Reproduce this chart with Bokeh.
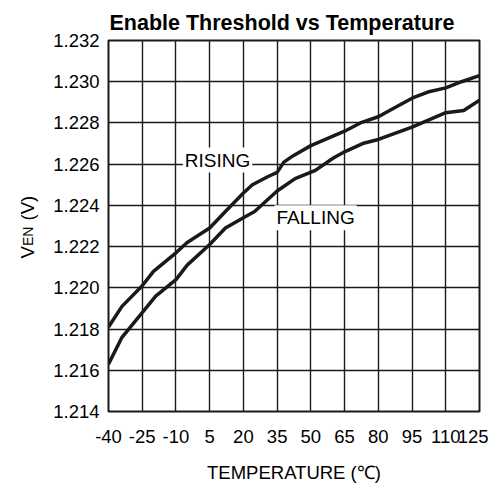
import math
from bokeh.plotting import figure
from bokeh.models import Range1d, FixedTicker, Label
from bokeh.layouts import row
from bokeh.core.properties import value
from bokeh.embed import file_html
from bokeh.resources import INLINE

# ---- data ----
rising_temp = [-40, -34, -25, -20, -10, -5, 5, 12, 20, 24, 31, 35, 38, 42, 50, 65, 72, 80, 85, 95, 102, 110, 117, 125]
rising_ven = [1.2181, 1.2191, 1.2201, 1.2208, 1.2217, 1.2222, 1.2229, 1.2237, 1.2246, 1.2250, 1.2254, 1.2256,
              1.2261, 1.2264, 1.2269, 1.2276, 1.2280, 1.2283, 1.2286, 1.2292, 1.2295, 1.2297, 1.2300, 1.2303]

falling_temp = [-40, -34, -25, -19, -10, -5, 5, 12, 20, 25, 35, 43, 52, 60, 65, 73, 80, 95, 110, 118, 125]
falling_ven = [1.2163, 1.2176, 1.2188, 1.2196, 1.2204, 1.2211, 1.2221, 1.2229, 1.2234, 1.2237, 1.2247, 1.2253,
               1.2257, 1.2263, 1.2266, 1.2270, 1.2272, 1.2278, 1.2285, 1.2286, 1.2291]

x_ticks = [-40, -25, -10, 5, 20, 35, 50, 65, 80, 95, 110, 125]
x_tick_labels = ["-40", "-25", "-10", "5", "20", "35", "50", "65", "80", "95", "110", "125"]
y_ticks = [1.214, 1.216, 1.218, 1.220, 1.222, 1.224, 1.226, 1.228, 1.230, 1.232]
y_tick_labels = ["1.214", "1.216", "1.218", "1.220", "1.222", "1.224", "1.226", "1.228", "1.230", "1.232"]

title_text = "Enable Threshold vs Temperature"
x_label_text = "TEMPERATURE (\u2103)"
y_label_parts = ["V", "EN", "(V)"]

FONT = "Liberation Sans"
INK = "#1a1a1a"
H = 487
TOP, BOTTOM = 40, 76
STRIP = 40

# ---- main chart ----
p = figure(width=488 - STRIP, height=H, output_backend="svg", toolbar_location=None,
           x_range=Range1d(-40, 125), y_range=Range1d(1.214, 1.232),
           min_border_left=108 - STRIP, min_border_right=9, min_border_top=TOP, min_border_bottom=BOTTOM,
           background_fill_color="white", border_fill_color="white")

p.title.text = title_text
p.title.text_font = FONT
p.title.text_font_size = "21.5px"
p.title.text_font_style = "bold"
p.title.text_color = "black"
p.title.align = "left"
p.title.offset = 1
p.title.standoff = 12

p.outline_line_color = INK
p.outline_line_width = 2

p.xaxis.ticker = FixedTicker(ticks=x_ticks)
p.yaxis.ticker = FixedTicker(ticks=y_ticks)
p.xgrid.ticker = FixedTicker(ticks=x_ticks)
p.ygrid.ticker = FixedTicker(ticks=y_ticks)
p.xaxis.major_label_overrides = {t: s for t, s in zip(x_ticks, x_tick_labels)}
p.yaxis.major_label_overrides = {t: s for t, s in zip(y_ticks, y_tick_labels)}

for g in (p.xgrid, p.ygrid):
    g.grid_line_color = INK
    g.grid_line_width = 1.4
    g.grid_line_alpha = 1.0

for ax in (p.xaxis, p.yaxis):
    ax.axis_line_color = None
    ax.major_tick_line_color = None
    ax.minor_tick_line_color = None
    ax.major_tick_out = 0
    ax.major_tick_in = 0
    ax.major_label_text_font = FONT
    ax.major_label_text_font_size = "18.5px"
    ax.major_label_text_color = "black"

p.xaxis.major_label_standoff = 18
p.yaxis.major_label_standoff = 9

p.xaxis.axis_label = x_label_text
p.xaxis.axis_label_text_font = FONT
p.xaxis.axis_label_text_font_size = "18.5px"
p.xaxis.axis_label_text_font_style = "normal"
p.xaxis.axis_label_text_color = "black"
p.xaxis.axis_label_standoff = 16

p.line(rising_temp, rising_ven, line_color=INK, line_width=3.5)
p.line(falling_temp, falling_ven, line_color=INK, line_width=3.5)

p.add_layout(Label(x=8.5, y=1.2262, text="RISING", text_align="center", text_baseline="middle",
                   text_font=FONT, text_font_size="19px", text_color="black",
                   background_fill_color="white", padding=2))
p.add_layout(Label(x=52.1, y=1.2234, text="FALLING", text_align="center", text_baseline="middle",
                   text_font=FONT, text_font_size="19px", text_color="black",
                   background_fill_color="white", padding=2))

# ---- narrow strip holding the rotated y-axis title (V with subscript EN) ----
# its frame is aligned with the main frame (rows align plot borders), so the
# y range is expressed in pixels measured up from the bottom of the page.
q = figure(width=STRIP, height=H, output_backend="svg", toolbar_location=None,
           x_range=Range1d(0, STRIP), y_range=Range1d(BOTTOM, H - TOP),
           x_axis_type=None, y_axis_type=None,
           min_border=0, min_border_left=0, min_border_right=0,
           min_border_top=TOP, min_border_bottom=BOTTOM,
           background_fill_color="white", border_fill_color="white")
q.outline_line_color = None
q.xgrid.visible = False
q.ygrid.visible = False

ylab_x = [26.5, 27.0, 26.5]
ylab_y = [H - 258, H - 245.5, H - 220]
ylab_size = ["18.5px", "14px", "18.5px"]
for tx, ty, txt, sz in zip(ylab_x, ylab_y, y_label_parts, ylab_size):
    q.text(x=[tx], y=[ty], text=[txt], angle=math.pi / 2,
           text_align="left", text_baseline="alphabetic",
           text_font=value(FONT), text_font_size=value(sz), text_color="black")

layout = row(q, p, spacing=0)
open("out.html", "w").write(file_html(layout, INLINE))
